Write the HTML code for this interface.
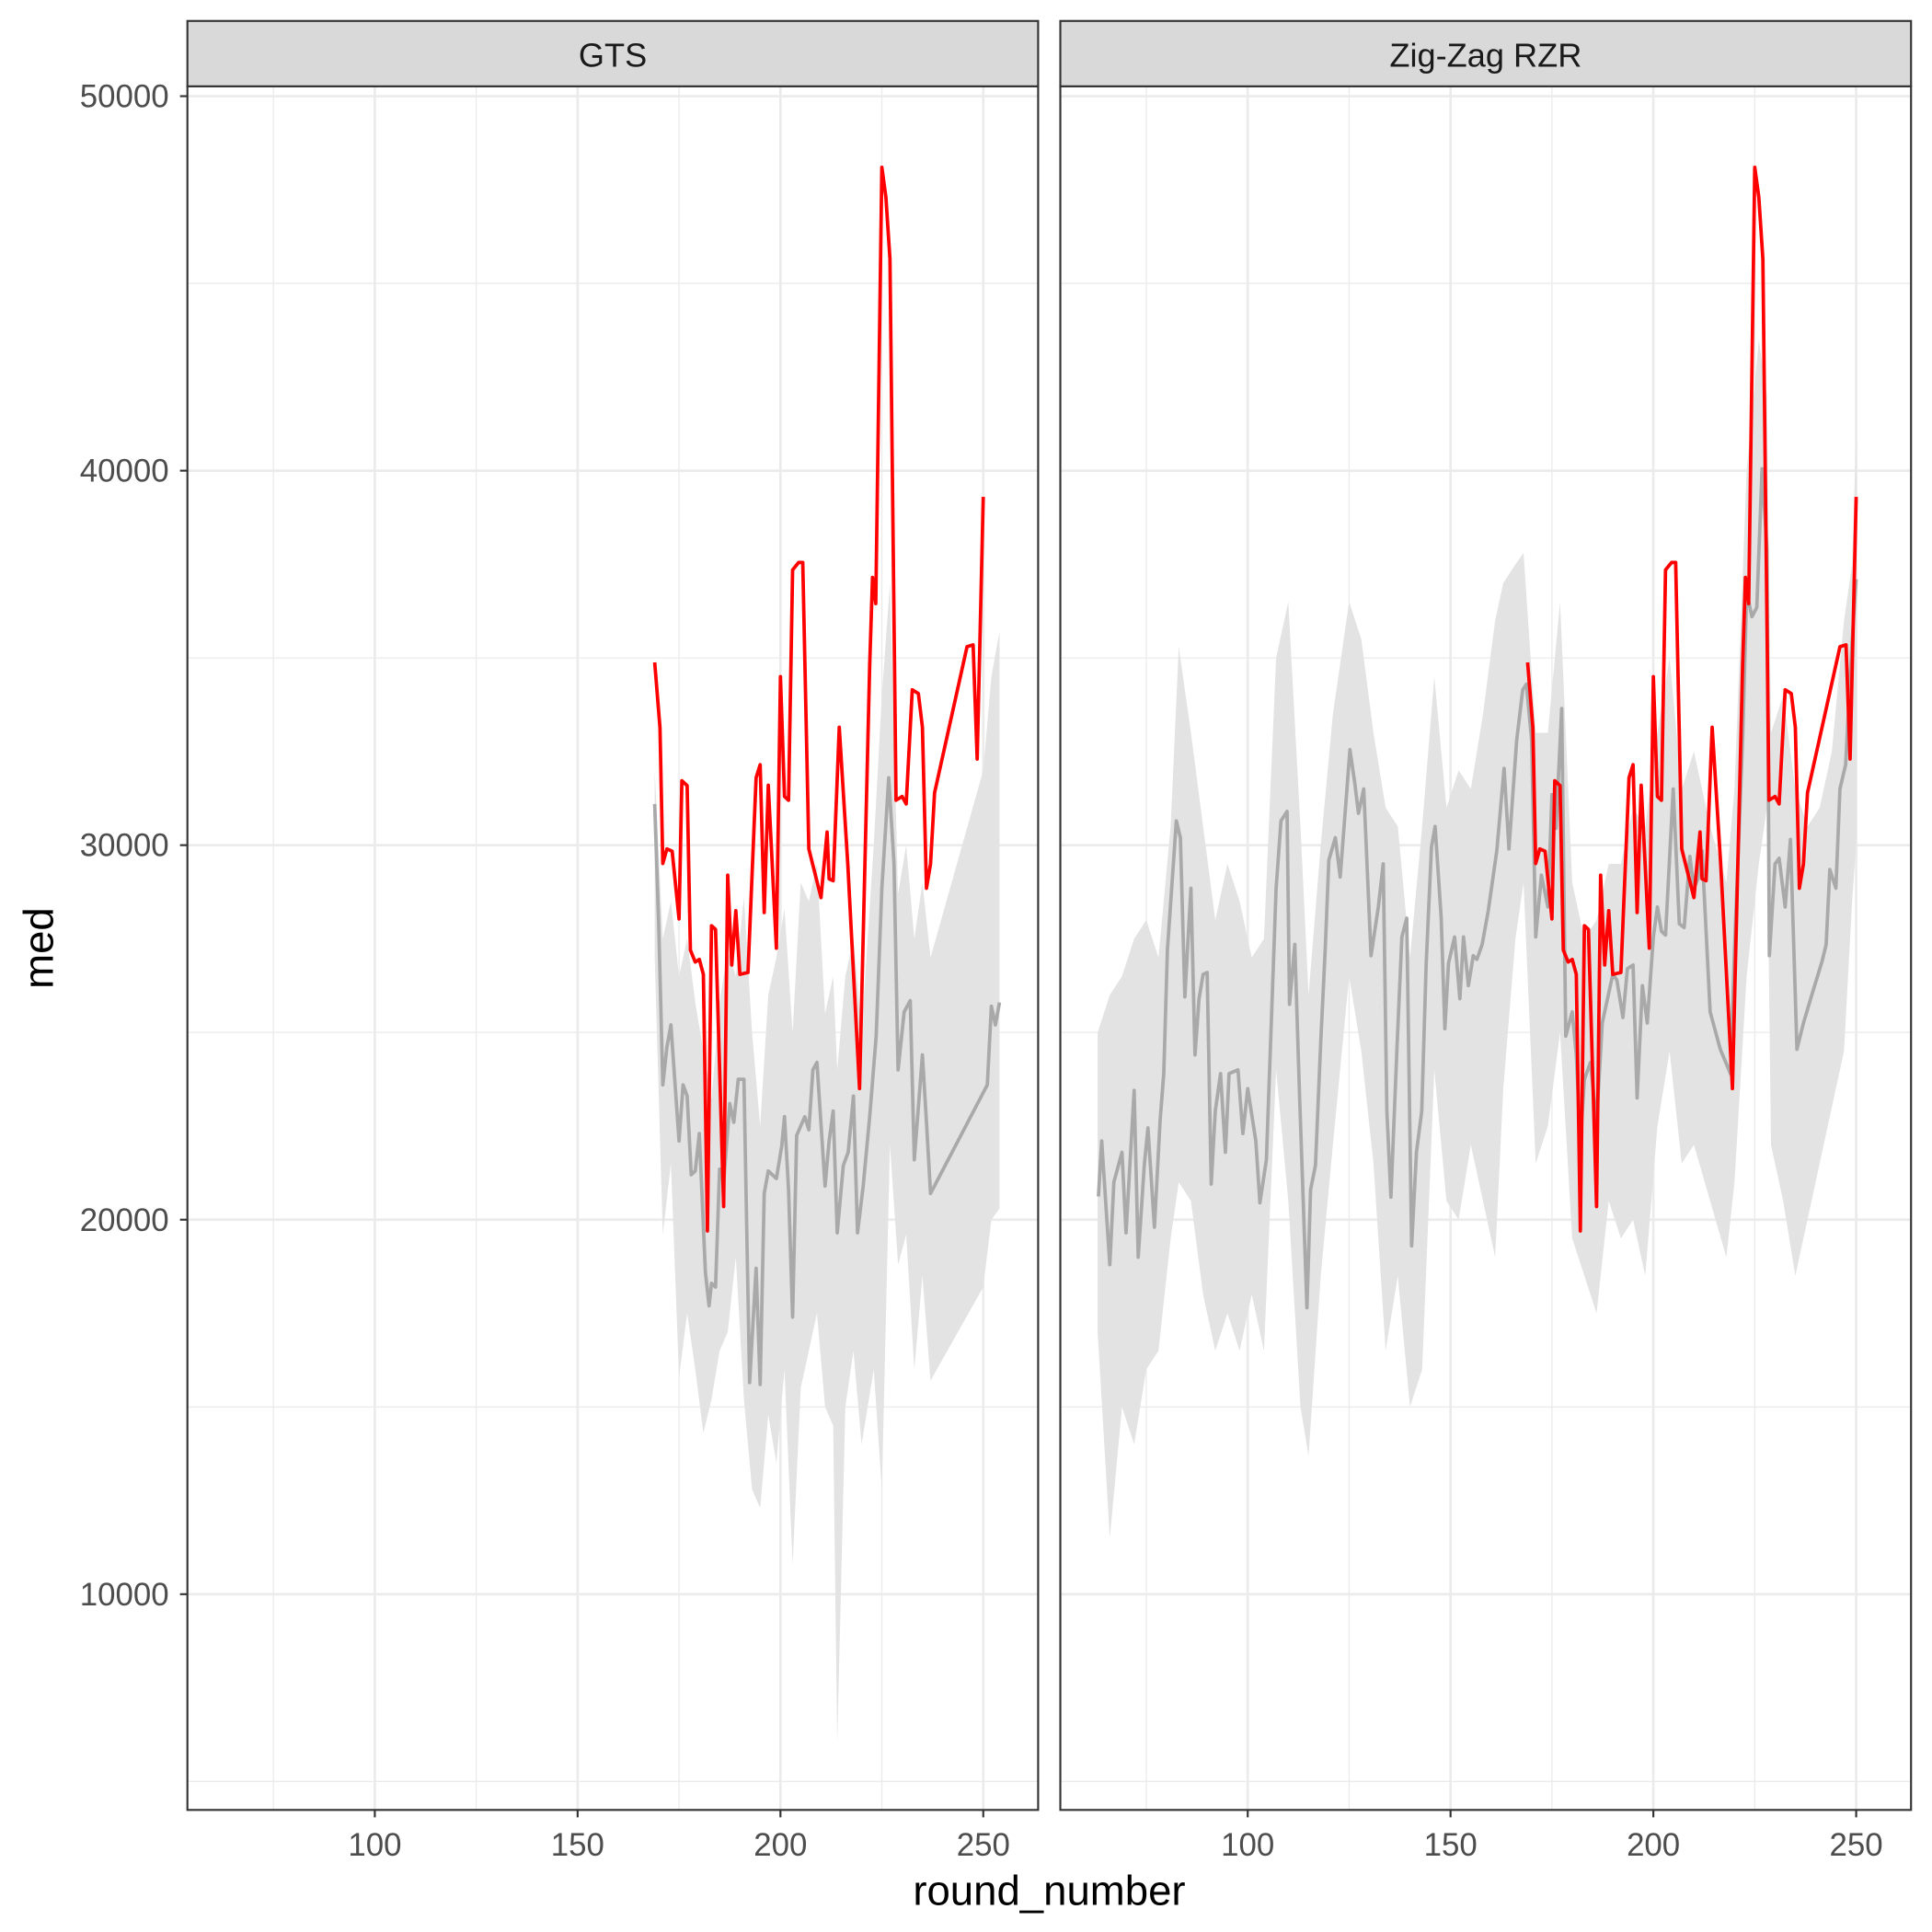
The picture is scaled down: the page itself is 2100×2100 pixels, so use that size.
<!DOCTYPE html>
<html><head><meta charset="utf-8"><style>
html,body{margin:0;padding:0;background:#fff;}
svg{display:block;font-family:"Liberation Sans",Arial,sans-serif;}
</style></head><body>
<svg id="chart" width="2100" height="2100" viewBox="0 0 1567 1567" xmlns="http://www.w3.org/2000/svg">
<rect x="0" y="0" width="1567" height="1567" fill="#fff"/>
</svg>
<script>
// ---- data ----
const yTicks = [10000, 20000, 30000, 40000, 50000];
const yMinor = [5000, 15000, 25000, 35000, 45000];
const xTicks = [100, 150, 200, 250];
const xMinor = [75, 125, 175, 225];
const panelNames = ["GTS", "Zig-Zag RZR"];

const gtsRedX = [169,170.3,171,172,173.3,175,175.7,177,177.8,179,180,181,182,183,184,186,187,188,189,190,192,194,195,196,197,199,200,201,202,203,204.5,205.5,207,210,211.5,212,213,214.5,216.6,219.5,222,222.7,223.5,225,226,227,228.5,230,231,232.5,234,235,236,237,238,246,247.5,248.5,250];
const gtsRedY = [34880,33140,29510,29900,29840,28030,31720,31590,27200,26880,26950,26550,19700,27850,27750,20350,29200,26800,28250,26550,26600,31800,32150,28200,31600,27250,34500,31300,31200,37350,37550,37550,29900,28600,30350,29100,29050,33150,29500,23500,34800,37150,36450,48100,47300,45650,31200,31300,31100,34150,34050,33150,28850,29500,31400,35300,35350,32300,39300];

const gtsGreyX = [169,170,171,172,173,175,176,177,178,179,180,181.5,182.4,183,184,185,186,187.5,188.5,189.6,191,192.4,194,195,196,197,199,200.3,201,202,203,204,206,207,208,209,211,212,213,214,215.5,216.7,218,219,220.4,222,223.6,225,226.7,228,229,230.5,232,233,235,236,237,251,252,253,254];
const gtsGreyY = [31100,27850,23600,24600,25200,22100,23600,23300,21200,21300,22300,18600,17700,18300,18200,21350,21000,23100,22600,23750,23750,15650,18700,15600,20700,21300,21100,21950,22750,20800,17400,22250,22750,22400,24000,24200,20900,22100,22900,19650,21450,21800,23300,19650,20900,22750,24900,28850,31800,29500,24000,25550,25850,21600,24400,22600,20700,23600,25700,25200,25800];

const gtsRibX = [169,171,173,175,177,179,181,183,185,187,189,191,193,195,197,199,201,203,205,207,209,211,213,214,216,218,220,223,225,227,229,231,233,235,237,250,252,254];
const gtsRibLo = [27000,19600,21500,15800,17500,16000,14300,15200,16500,17000,19000,15200,12800,12300,14800,13500,16000,10800,15500,16500,17500,15000,14500,6000,15000,16500,14000,16000,12800,22000,18800,19600,16000,18500,15700,18200,20000,20300];
const gtsRibHi = [32000,27500,28500,26500,27500,25800,24500,23200,25800,27200,26500,28600,25000,22500,26000,27000,28300,25000,29000,28500,29500,25500,26500,24000,26500,27500,25000,30000,34000,37000,28700,30000,27500,29000,27000,32000,34500,35700];

const zzGreyX = [63.2,64,66,67,69,70,72,73,74.5,75.4,77,78.4,79.3,80.2,82.4,83.4,84.5,86,87,88,89,90,91,92,93.3,94.5,95.4,97.6,98.8,100,102,103,104.6,107,108.2,109.7,110.3,111.6,112.8,114.6,115.5,116.7,118,119.1,120,121.6,122.8,125.2,126.4,127.3,128.6,130.4,132.2,133.4,134.3,135.3,136.8,138,139.2,140.4,141.6,142.9,144,145.3,146.2,147.7,148.6,149.5,151,152.3,153.2,154.4,155.6,156.5,157.8,159.3,161.4,163.2,164.4,166.3,167.8,168.7,170,171,172.4,174,175,176,177.4,178.4,180,181,182,183,184.5,186,187.4,189,190,191,192.5,193.6,195,196,197.3,198.5,200,201,202,203,204.9,206.4,207.6,209,210,211,212,214,216.5,219,220,222,223,224.3,225.5,226.8,228,228.6,230,231,232.5,233.8,235.4,237,239.2,241.6,242.6,243.5,245,246,247.4,249,250];
const zzGreyY = [20620,22100,18800,21000,21800,19650,23450,19000,21450,22450,19800,22650,23900,27200,30650,30200,25950,28850,24400,25900,26550,26600,20950,22900,23900,21800,23900,24000,22300,23500,22100,20450,21600,28850,30650,30900,25750,27350,23250,17650,20800,21450,24750,27200,29600,30200,29150,32550,31650,30850,31500,27050,28350,29500,22900,20600,24600,27550,28050,19300,21800,22900,26850,29950,30500,28050,25100,26850,27550,25900,27550,26250,27050,26950,27350,28250,29850,32050,29900,32800,34150,34300,32800,27550,29200,28350,31350,30450,33650,24900,25550,24400,22100,23750,24200,22600,25250,26050,26550,26400,25400,26700,26800,23250,26250,25250,27550,28350,27700,27600,31500,27900,27800,29700,28850,29100,29850,25550,24550,23900,27200,32800,36750,36100,36350,40050,37900,27050,29500,29650,28350,30150,24550,25250,26050,26900,27350,29350,28850,31500,32150,35450,37100];

const zzRibX = [63,66,69,72,75,78,81,83,86,89,92,95,98,101,104,107,110,113,115,118,121,125,128,131,134,137,140,143,146,149,152,155,158,161,163,166,168,171,174,177,180,183,186,189,192,195,198,201,204,207,210,214,218,220,223,226,228,229,232,235,238,241,244,247,249,250];
const zzRibLo = [17000,11500,15000,14000,16000,16500,19500,21000,20500,18000,16500,17500,16500,18000,16500,24000,20500,15000,13700,18500,22000,26500,24500,21500,16500,18500,15000,16000,24000,20500,20000,22000,20500,19000,23500,27500,29000,21500,22500,25000,19500,18500,17500,20500,19500,20000,18500,22500,24500,21500,22000,20500,19000,21000,26500,29500,31000,22000,20500,18500,20000,21500,23000,24500,28500,30000];
const zzRibHi = [25000,26000,26500,27500,28000,27000,30500,35300,33000,30500,28000,29500,28500,27000,27500,35000,36500,30500,26000,30000,33500,36500,35500,33000,31000,30500,27000,30500,34500,31000,32000,31500,33500,36000,37000,37500,37800,33000,33000,36500,29000,27500,28000,29500,29500,31000,30500,33000,35000,31500,32500,30500,29000,31500,40000,43500,42000,33000,34000,31500,30500,31000,32500,36000,37500,41000];

// ---- layout ----
const svg = document.getElementById('chart');
const NS = 'http://www.w3.org/2000/svg';
const panels = [{x0:152, x1:842}, {x0:860, x1:1550}];
const PT = 70, PB = 1468, STRIPTOP = 17;
function yS(v){ return 78 + (50000 - v) * 0.030375; }
function xS(p, v){ return panels[p].x0 + 152 + (v - 100) * 3.29; }
function mk(tag, attrs, parent){
  const e = document.createElementNS(NS, tag);
  for (const k in attrs) e.setAttribute(k, attrs[k]);
  (parent || svg).appendChild(e);
  return e;
}
function linePath(p, xs, ys){
  return xs.map((x,i)=>(i?'L':'M')+xS(p,x).toFixed(2)+','+yS(ys[i]).toFixed(2)).join('');
}
function ribbonPath(p, xs, lo, hi){
  let d = xs.map((x,i)=>(i?'L':'M')+xS(p,x).toFixed(2)+','+yS(hi[i]).toFixed(2)).join('');
  for (let i = xs.length-1; i >= 0; i--) d += 'L'+xS(p,xs[i]).toFixed(2)+','+yS(lo[i]).toFixed(2);
  return d + 'Z';
}

panels.forEach((pn, p) => {
  const g = mk('g', {});
  
  
  const clipId = 'clip' + p;
  const cp = mk('clipPath', {id: clipId}, g);
  mk('rect', {x: pn.x0, y: PT, width: pn.x1-pn.x0, height: PB-PT}, cp);
  yMinor.forEach(v => {
    const l = mk('line', {x1:pn.x0, x2:pn.x1, y1:yS(v), y2:yS(v), stroke:'#ebebeb', 'stroke-width':1}, g);
    
    
  });
  xMinor.forEach(v => {
    const l = mk('line', {x1:xS(p,v), x2:xS(p,v), y1:PT, y2:PB, stroke:'#ebebeb', 'stroke-width':1}, g);
    
    
  });
  yTicks.forEach(v => {
    const l = mk('line', {x1:pn.x0, x2:pn.x1, y1:yS(v), y2:yS(v), stroke:'#ebebeb', 'stroke-width':2}, g);
    
    
  });
  xTicks.forEach(v => {
    const l = mk('line', {x1:xS(p,v), x2:xS(p,v), y1:PT, y2:PB, stroke:'#ebebeb', 'stroke-width':2}, g);
    
    
  });
  const dg = mk('g', {'clip-path': 'url(#'+clipId+')'}, g);
  const rib = mk('path', {d: p===0 ? ribbonPath(0, gtsRibX, gtsRibLo, gtsRibHi) : ribbonPath(1, zzRibX, zzRibLo, zzRibHi), fill:'#e3e3e3'}, dg);
  
  
  const gl = mk('path', {d: p===0 ? linePath(0, gtsGreyX, gtsGreyY) : linePath(1, zzGreyX, zzGreyY), fill:'none', stroke:'#a9a9a9', 'stroke-width':2.8, 'stroke-linejoin':'round'}, dg);
  
  
  const rl = mk('path', {d: linePath(p, gtsRedX, gtsRedY), fill:'none', stroke:'#ff0000', 'stroke-width':2.8, 'stroke-linejoin':'round'}, dg);
  
  
  const b = mk('rect', {x:pn.x0, y:PT, width:pn.x1-pn.x0, height:PB-PT, fill:'none', stroke:'#333', 'stroke-width':1.6}, g);
  
  
  const s = mk('rect', {x:pn.x0, y:STRIPTOP, width:pn.x1-pn.x0, height:PT-STRIPTOP, fill:'#d9d9d9', stroke:'#333', 'stroke-width':1.6}, g);
  
  
  const st = mk('text', {x:(pn.x0+pn.x1)/2, y:54, 'text-anchor':'middle', 'font-size':27, fill:'#1a1a1a'}, g);
  st.textContent = panelNames[p];
  
  
  xTicks.forEach(v => {
    const t = mk('line', {x1:xS(p,v), x2:xS(p,v), y1:PB, y2:PB+6, stroke:'#333', 'stroke-width':1.6}, g);
    
    
    const tl = mk('text', {x:xS(p,v), y:1505, 'text-anchor':'middle', 'font-size':26, fill:'#4d4d4d'}, g);
    tl.textContent = v;
    
    
  });
});
yTicks.forEach(v => {
  const t = mk('line', {x1:146, x2:152, y1:yS(v), y2:yS(v), stroke:'#333', 'stroke-width':1.6});
  
  
  const tl = mk('text', {x:137, y:yS(v)+9, 'text-anchor':'end', 'font-size':26, fill:'#4d4d4d'});
  tl.textContent = v;
  
  
});
const yt = mk('text', {x:0, y:0, transform:'translate(43,769) rotate(-90)', 'text-anchor':'middle', 'font-size':34, fill:'#000'});
yt.textContent = 'med';


const xt = mk('text', {x:851, y:1545, 'text-anchor':'middle', 'font-size':34, fill:'#000'});
xt.textContent = 'round_number';


</script>
</body></html>
